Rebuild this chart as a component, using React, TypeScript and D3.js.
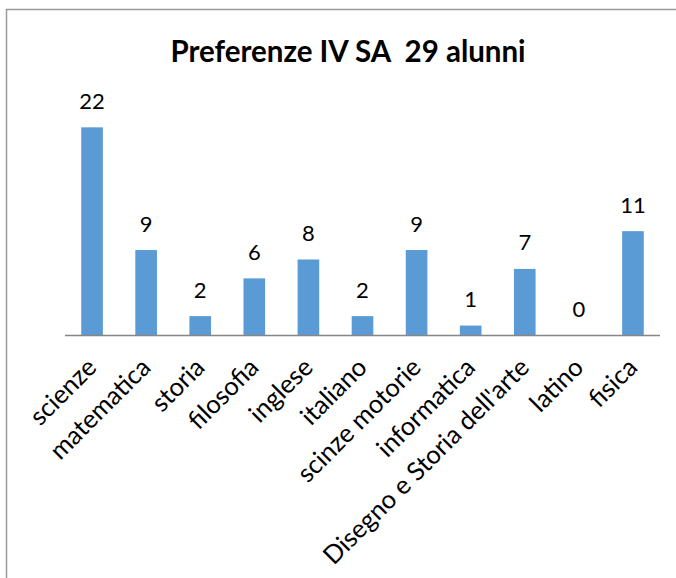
import React from "react";
import * as d3 from "d3";

const categories = [
  "scienze",
  "matematica",
  "storia",
  "filosofia",
  "inglese",
  "italiano",
  "scinze motorie",
  "informatica",
  "Disegno e Storia dell'arte",
  "latino",
  "fisica",
];
const values = [22, 9, 2, 6, 8, 2, 9, 1, 7, 0, 11];
const title = "Preferenze IV SA  29 alunni";
const yMax = 25;

const W = 676;
const H = 578;
const FONT = "Lato, 'Open Sans', sans-serif";

export default function App() {
  const x = d3
    .scaleBand<string>()
    .domain(categories)
    .range([65, 660])
    .paddingInner(0.6)
    .paddingOuter(0.3);
  const y = d3.scaleLinear().domain([0, yMax]).range([335, 99]);
  const base = y(0);

  return (
    <svg
      width={W}
      height={H}
      style={{ position: "absolute", left: 0, top: 0 }}
    >
      <rect x={0} y={0} width={W} height={H} fill="#fff" />
      <rect
        x={6.5}
        y={9.5}
        width={W + 10}
        height={H + 10}
        fill="none"
        stroke="#9a9a9a"
        strokeWidth={1.5}
      />
      <text
        x={348}
        y={61.5}
        textAnchor="middle"
        fontFamily={FONT}
        fontWeight="bold"
        fontSize={29.5}
        fill="#000"
        style={{ whiteSpace: "pre" }}
      >
        {title}
      </text>
      {categories.map((c, i) => {
        const v = values[i];
        const bx = x(c)!;
        const cx = bx + x.bandwidth() / 2;
        return (
          <g key={c}>
            {v > 0 && (
              <rect
                x={bx}
                y={y(v)}
                width={x.bandwidth()}
                height={base - y(v)}
                fill="#5b9bd5"
              />
            )}
            <text
              x={cx}
              y={y(v) - 18.5}
              textAnchor="middle"
              fontFamily={FONT}
              fontSize={22}
              fill="#000"
            >
              {v}
            </text>
            <text
              transform={`translate(${cx + 6},${base + 34}) rotate(-45)`}
              textAnchor="end"
              fontFamily={FONT}
              fontSize={25.5}
              fill="#000"
            >
              {c}
            </text>
          </g>
        );
      })}
      <line
        x1={65}
        x2={660}
        y1={base + 0.5}
        y2={base + 0.5}
        stroke="#868686"
        strokeWidth={1.5}
      />
    </svg>
  );
}
